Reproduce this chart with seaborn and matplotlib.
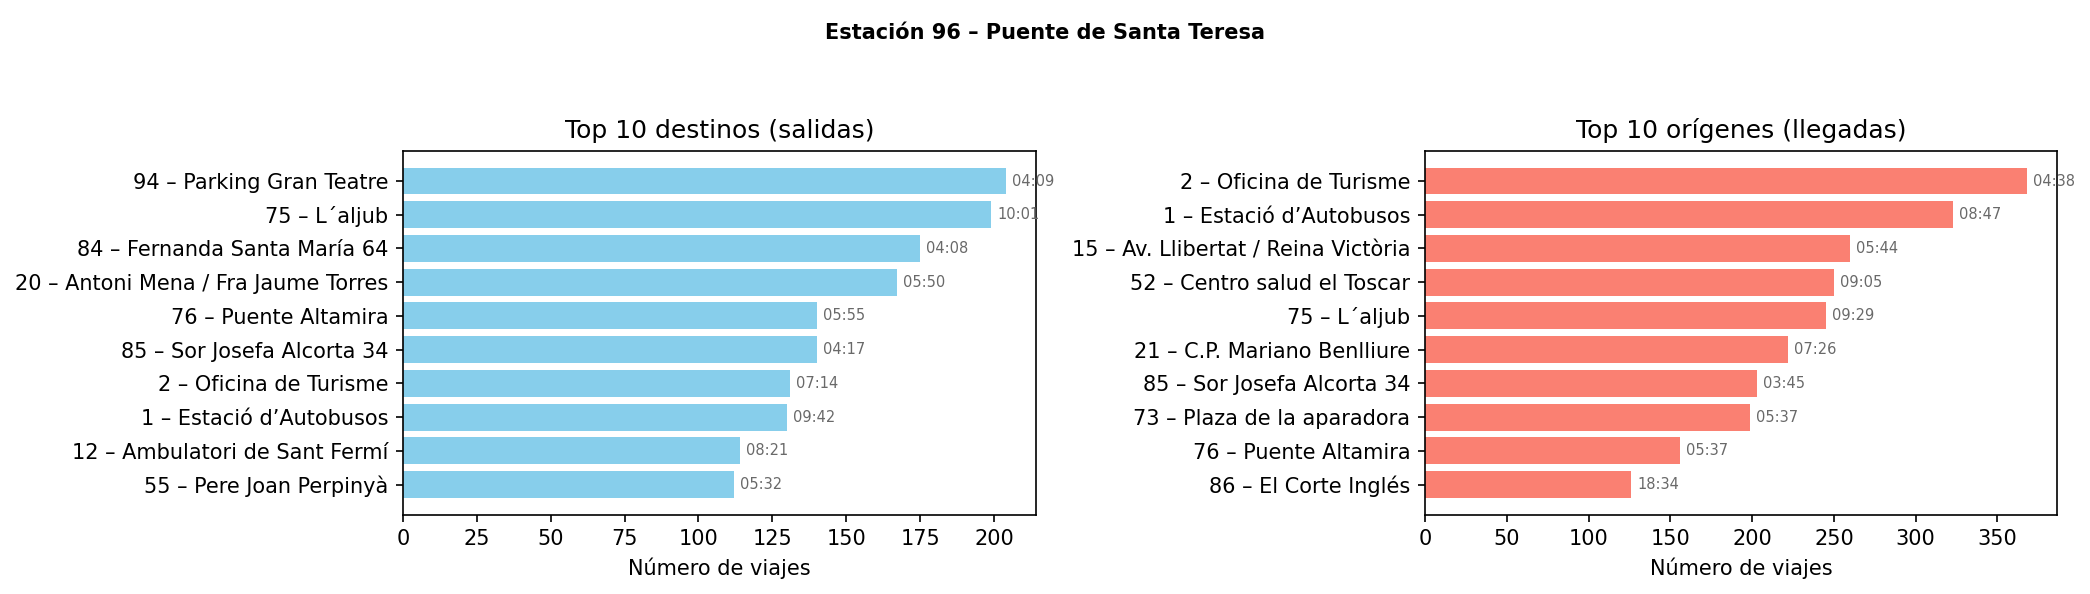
import pandas as pd
import matplotlib
matplotlib.use("Agg")
import matplotlib.pyplot as plt
import seaborn as sns

suptitle = "Estación 96 – Puente de Santa Teresa"

destinos = ["94 – Parking Gran Teatre", "75 – L´aljub", "84 – Fernanda Santa María 64",
            "20 – Antoni Mena / Fra Jaume Torres", "76 – Puente Altamira",
            "85 – Sor Josefa Alcorta 34", "2 – Oficina de Turisme",
            "1 – Estació d’Autobusos", "12 – Ambulatori de Sant Fermí",
            "55 – Pere Joan Perpinyà"]
salidas = [204, 199, 175, 167, 140, 140, 131, 130, 114, 112]
hora_salidas = ["04:09", "10:01", "04:08", "05:50", "05:55", "04:17", "07:14",
                "09:42", "08:21", "05:32"]

origenes = ["2 – Oficina de Turisme", "1 – Estació d’Autobusos",
            "15 – Av. Llibertat / Reina Victòria", "52 – Centro salud el Toscar",
            "75 – L´aljub", "21 – C.P. Mariano Benlliure", "85 – Sor Josefa Alcorta 34",
            "73 – Plaza de la aparadora", "76 – Puente Altamira", "86 – El Corte Inglés"]
llegadas = [368, 323, 260, 250, 245, 222, 203, 199, 156, 126]
hora_llegadas = ["04:38", "08:47", "05:44", "09:05", "09:29", "07:26", "03:45",
                 "05:37", "05:37", "18:34"]

fig, axes = plt.subplots(1, 2, figsize=(2090 / 150, 594 / 150), dpi=150)
fig.subplots_adjust(left=0.1928, right=0.9842, bottom=0.1338, top=0.7458, wspace=0.0)
# place second axis
axes[0].set_position([0.1928, 0.1338, 0.4957 - 0.1928, 0.7458 - 0.1338])
axes[1].set_position([0.6818, 0.1338, 0.9842 - 0.6818, 0.7458 - 0.1338])

panels = [
    (axes[0], destinos, salidas, hora_salidas, "skyblue", "Top 10 destinos (salidas)"),
    (axes[1], origenes, llegadas, hora_llegadas, "salmon", "Top 10 orígenes (llegadas)"),
]

for ax, names, counts, horas, color, title in panels:
    df = pd.DataFrame({"estacion": names, "viajes": counts})
    sns.barplot(data=df, y="estacion", x="viajes", orient="h", color=color,
                saturation=1, width=0.8, ax=ax)
    ax.autoscale(enable=True, axis="y")
    ax.margins(x=0.05)
    ax.autoscale_view()
    off = max(counts) * 0.01
    for i, (v, h) in enumerate(zip(counts, horas)):
        ax.text(v + off, i, h, va="center", ha="left", fontsize=7, color="dimgray")
    ax.set_title(title, fontsize=12)
    ax.set_xlabel("Número de viajes", fontsize=10)
    ax.set_ylabel("")
    ax.tick_params(labelsize=10)

fig.suptitle(suptitle, fontsize=10, fontweight="bold", y=0.962)

fig.savefig("out.png", dpi=150)
